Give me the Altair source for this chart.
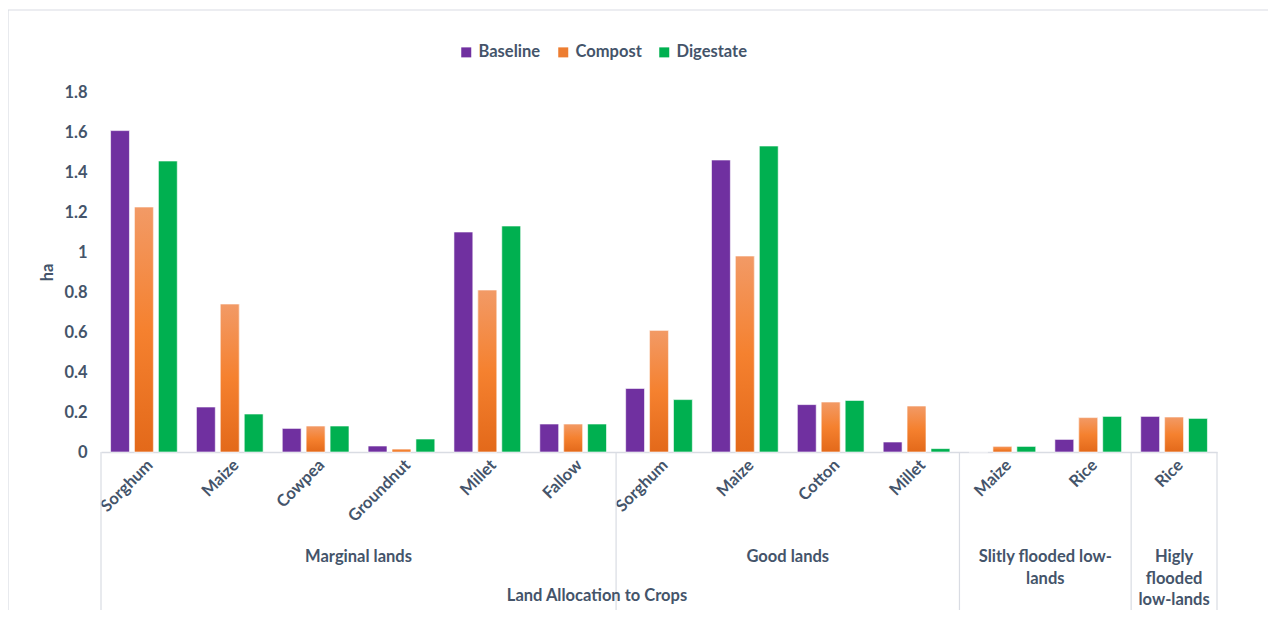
import altair as alt
import pandas as pd

# ---- data ----
groups = ["Marginal lands", "Good lands", "Slitly flooded low-\nlands", "Higly\nflooded\nlow-lands"]
group_crops = [
    ["Sorghum", "Maize", "Cowpea", "Groundnut", "Millet", "Fallow"],
    ["Sorghum", "Maize", "Cotton", "Millet"],
    ["Maize", "Rice"],
    ["Rice"],
]
series = ["Baseline", "Compost", "Digestate"]
baseline = [1.607, 0.225, 0.118, 0.03, 1.10, 0.14, 0.318, 1.46, 0.237, 0.05, 0.0, 0.063, 0.178]
compost = [1.225, 0.74, 0.13, 0.015, 0.81, 0.14, 0.608, 0.98, 0.25, 0.23, 0.028, 0.172, 0.175]
digestate = [1.455, 0.19, 0.13, 0.065, 1.13, 0.14, 0.262, 1.53, 0.258, 0.017, 0.028, 0.178, 0.168]
colors = ["#7030A0", "#ED7D31", "#00B050"]
x_title = "Land Allocation to Crops"
y_title = "ha"

# ---- build tables ----
keys, crop_names, idxs = [], [], []
grp_rows, sep_pos = [], []
i = 0
for g, crops in zip(groups, group_crops):
    sep_pos.append(i)
    grp_rows.append({"group": g, "center": i + len(crops) / 2})
    for c in crops:
        keys.append(f"{i:02d}|{c}")
        crop_names.append(c)
        idxs.append(i)
        i += 1
sep_pos.append(i)
n = i

rows = []
for k, b, cp, d in zip(keys, baseline, compost, digestate):
    for s, v in zip(series, [b, cp, d]):
        rows.append({"key": k, "series": s, "value": v})
bars = pd.DataFrame(rows)
crop_df = pd.DataFrame({"pos": [p + 0.5 for p in idxs], "crop": crop_names})
grp_df = pd.DataFrame(grp_rows)
sep_df = pd.DataFrame({"pos": sep_pos})

W, H = 1116, 360
TXT = "#44546A"
FONT = "Lato"
FS = 16.5

xscale = alt.Scale(domain=keys, paddingInner=0, paddingOuter=0)
xoff = alt.XOffset("series:N", scale=alt.Scale(domain=series, paddingInner=0.21, paddingOuter=0.4))
yscale = alt.Scale(domain=[0, 1.8])
yaxis = alt.Axis(values=[0, 0.2, 0.4, 0.6, 0.8, 1, 1.2, 1.4, 1.6, 1.8], format="~g",
                 grid=False, ticks=False, domain=False, labelPadding=14,
                 labelFontSize=FS, labelFont=FONT, labelFontWeight="bold", labelColor=TXT,
                 title=y_title, titleFontSize=FS, titleFont=FONT, titleFontWeight="bold",
                 titleColor=TXT, titleX=-54, titleY=180, titleAngle=270,
                 titleAlign="center", titleBaseline="middle")

base_bars = alt.Chart(bars).mark_bar(stroke="#FFFFFF", strokeWidth=1, strokeOpacity=0.6).encode(
    x=alt.X("key:N", scale=xscale, sort=keys,
            axis=alt.Axis(labels=False, ticks=False, title=None, domainColor="#D9DCE3", domainWidth=1.5)),
    xOffset=xoff,
    y=alt.Y("value:Q", scale=yscale, axis=yaxis),
    color=alt.Color("series:N", scale=alt.Scale(domain=series, range=colors),
                    legend=alt.Legend(title=None, orient="none", direction="horizontal",
                                      legendX=357, legendY=-48, symbolType="square", symbolSize=100,
                                      symbolStrokeWidth=0, labelFontSize=FS, labelFont=FONT,
                                      labelFontWeight="bold", labelColor=TXT, columnPadding=14,
                                      labelOffset=4, padding=0)),
)

compost_bars = alt.Chart(bars).transform_filter(alt.datum.series == "Compost").mark_bar(
    stroke="#FFFFFF", strokeWidth=1, strokeOpacity=0.6,
    fill=alt.Gradient(gradient="linear", x1=0, x2=0, y1=0, y2=1,
                      stops=[alt.GradientStop(offset=0, color="#F29A66"),
                             alt.GradientStop(offset=0.5, color="#F5812F"),
                             alt.GradientStop(offset=1, color="#E3691A")]),
).encode(
    x=alt.X("key:N", scale=xscale, sort=keys, axis=None),
    xOffset=xoff,
    y=alt.Y("value:Q", scale=yscale, axis=yaxis),
)

qx = alt.Scale(domain=[0, n], nice=False, zero=False)

crop_text = alt.Chart(crop_df).mark_text(
    angle=315, align="right", baseline="middle", fontSize=FS, font=FONT, fontWeight="bold",
    color=TXT, dx=9, dy=0,
).encode(
    x=alt.X("pos:Q", scale=qx, axis=None),
    y=alt.value(H + 17),
    text="crop:N",
)

grp_text = alt.Chart(grp_df).mark_text(
    align="center", baseline="middle", fontSize=FS, font=FONT, fontWeight="bold",
    color=TXT, lineBreak="\n", lineHeight=21.5,
).encode(
    x=alt.X("center:Q", scale=qx, axis=None),
    y=alt.value(H + 105),
    text="group:N",
)

seps = alt.Chart(sep_df).mark_rule(color="#D9DCE3", strokeWidth=1.2).encode(
    x=alt.X("pos:Q", scale=qx, axis=None),
    y=alt.value(H),
    y2=alt.value(H + 160),
)

title_text = alt.Chart(pd.DataFrame({"t": [x_title]})).mark_text(
    align="center", baseline="middle", fontSize=FS, font=FONT, fontWeight="bold", color=TXT,
).encode(
    x=alt.value(496),
    y=alt.value(H + 144),
    text="t:N",
)

frame = alt.Chart(pd.DataFrame({"t": [0]})).mark_rect(
    fill="transparent", stroke="#D9DCE3", strokeWidth=1.2,
).encode(
    x=alt.value(-93), x2=alt.value(1300), y=alt.value(-82), y2=alt.value(700),
)

chart = alt.layer(frame, base_bars, compost_bars, crop_text, grp_text, seps, title_text).resolve_scale(
    x="independent"
).properties(
    width=W, height=H,
    padding={"left": 93, "top": 84, "right": 51, "bottom": 158},
    autosize=alt.AutoSizeParams(type="none"),
).configure(background="white").configure_view(stroke="transparent", strokeWidth=0)

chart.save("out.html", embed_options={"renderer": "svg", "actions": False})
